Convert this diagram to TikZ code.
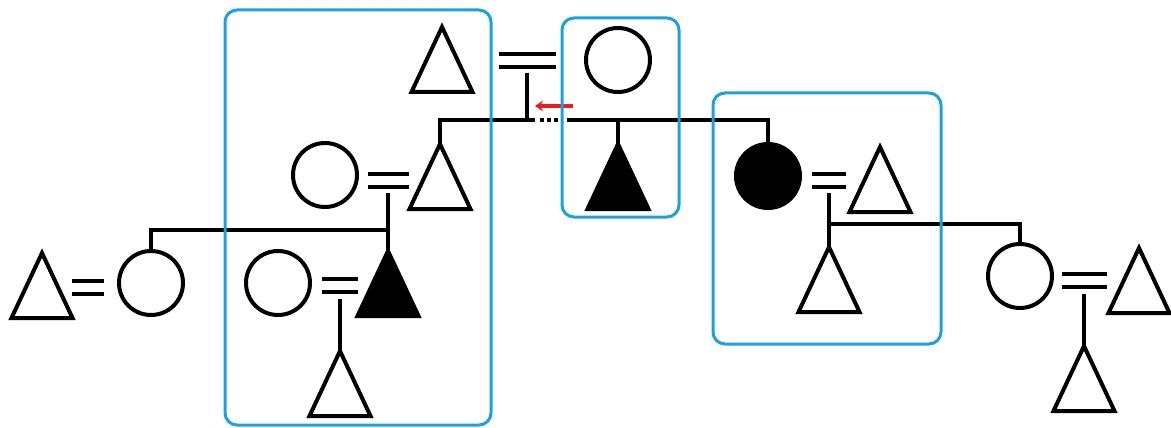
\documentclass[tikz,border=0pt]{standalone}
\usepackage{tikz}
\usetikzlibrary{arrows.meta,shapes.geometric}
\definecolor{boxblue}{RGB}{27,161,226}
\definecolor{arrowred}{RGB}{237,28,36}

\begin{document}
\begin{tikzpicture}[x=1pt,y=-1pt,line width=4pt]
	\useasboundingbox (0,0) rectangle (1171,428);

	\begin{scope}[every node/.style={draw,inner sep=0pt,outer sep=0pt},
	              male/.style={isosceles triangle,shape border rotate=90,
	                           isosceles triangle stretches,
	                           minimum width=61,minimum height=65,anchor=apex},
	              female/.style={circle,minimum size=64},
	              affected/.style={fill=black}]
	    \node[male] (t1) at (442,27) {};
	    \node[female] (c1) at (618,60) {};
	    \node[female] (c2) at (325,175) {};
	    \node[male] (t2) at (440,144) {};
	    \node[male,affected] (f1) at (618,144) {};
	    \node[female,affected] (f3) at (768,176) {};
	    \node[male] (t5) at (880,147) {};
	    \node[male] (t3) at (42,253) {};
	    \node[female] (c3) at (151,283) {};
	    \node[female] (c4) at (278,283) {};
	    \node[male,affected] (f2) at (388,251) {};
	    \node[male] (t4) at (340,351) {};
	    \node[male] (t6) at (829,247) {};
	    \node[female] (c5) at (1020,276) {};
	    \node[male] (t7) at (1139,248) {};
	    \node[male] (t8) at (1084,346) {};
	\end{scope}

	% couples and sibships
	\coordinate (m1) at (527,60.5);
	\coordinate (m2) at (388,180.5);
	\coordinate (m3) at (88,287);
	\coordinate (m4) at (340,285.5);
	\coordinate (m5) at (829,180.5);
	\coordinate (m6) at (1084,280.5);
	\coordinate (s1) at (527,120);
	\coordinate (s2) at (388,230);
	\coordinate (s3) at (829,224);

	\foreach \m/\w in {m1/28.5,m2/20.5,m3/16,m4/18,m5/17,m6/22.5}
	    \draw ([shift={(-\w,-6.5)}]\m) -- ([shift={(\w,-6.5)}]\m)
	          ([shift={(-\w,6.5)}]\m) -- ([shift={(\w,6.5)}]\m);

	\draw ([yshift=-12.5]m1) -- (s1);
	\draw (t2.apex) |- ([xshift=8]s1);
	\draw[dash pattern=on 3.5pt off 3.5pt] ([xshift=13]s1) -- ([xshift=31]s1);
	\draw ([xshift=40]s1) -| (f3.north);
	\draw (f1.apex) -- (f1.apex |- s1);

	\draw ([yshift=-12.5]m2) -- (f2.apex);
	\draw (c3.north) |- (s2);
	\draw ([yshift=-13.5]m4) -- (t4.apex);

	\draw ([yshift=-12.5]m5) -- (t6.apex);
	\draw (s3) -| (c5.north);
	\draw ([yshift=-13.5]m6) -- (t8.apex);

	% red arrow
	\coordinate (ra) at (573,106);
	\coordinate (rb) at (535,106);
	\draw[arrowred,line width=3.5pt,-{Stealth[length=8pt,width=11pt]}] (ra) -- (rb);

	% blue boxes
	\begin{scope}[boxblue,line width=3pt,rounded corners=12pt]
	    \draw (225,10) rectangle (491,425);
	    \draw (562,18) rectangle (679,217);
	    \draw (713,93) rectangle (941,344);
	\end{scope}
\end{tikzpicture}
\end{document}
